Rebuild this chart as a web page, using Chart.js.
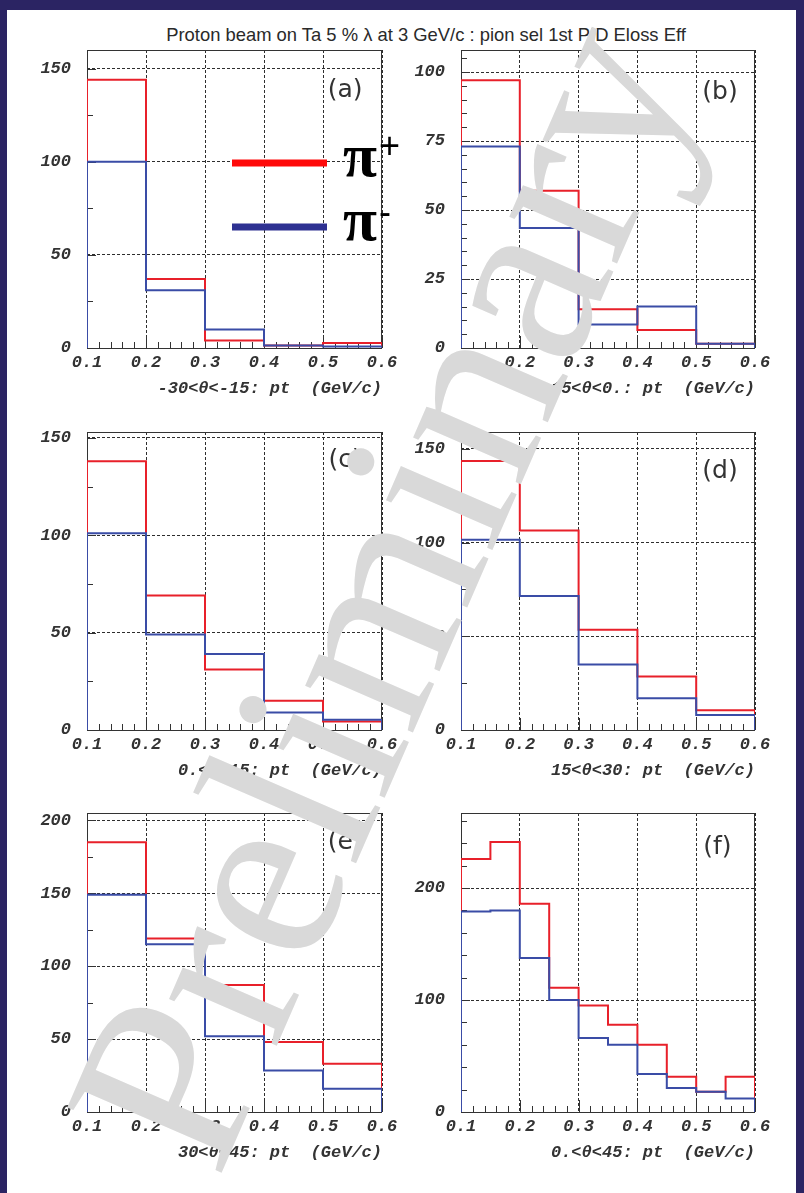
<!DOCTYPE html>
<html>
<head>
<meta charset="utf-8">
<script src="https://cdn.jsdelivr.net/npm/chart.js@4.4.1/dist/chart.umd.min.js"></script>
<style>
  html, body { margin: 0; padding: 0; background: #2b2463; }
  #page { position: relative; width: 804px; height: 1193px; overflow: hidden; background: #2b2463; }
  #sheet { position: absolute; left: 7px; top: 10px; width: 789px; height: 1183px; background: #ffffff; }
  #title { position: absolute; left: 426px; top: 24px; transform: translateX(-50%); white-space: nowrap;
           font: 18.4px 'Liberation Sans', sans-serif; color: #2a2a2a; line-height: 22px; }
  canvas { position: absolute; }
  #wm { position: absolute; left: 0; top: 0; pointer-events: none; }
</style>
</head>
<body>
<div id="page">
  <div id="sheet"></div>
  <div id="title">Proton beam on Ta 5 % λ at 3 GeV/c : pion sel 1st PID Eloss Eff</div>
  <svg id="wm" width="804" height="1193">
    <text x="218" y="1181" transform="rotate(-66.5 218 1181)" font-family="Liberation Serif, serif"
          font-size="256" fill="#d9d9d9">Preliminary</text>
  </svg>
</div>
<script>
// pt bin edges (GeV/c)
const ptEdges     = [0.1, 0.2, 0.3, 0.4, 0.5, 0.6];
const ptEdgesFine = [0.1, 0.15, 0.2, 0.25, 0.3, 0.35, 0.4, 0.45, 0.5, 0.55, 0.6];
const ptTicks     = [0.1, 0.2, 0.3, 0.4, 0.5, 0.6];

// pion counts per pt bin, one pair of arrays per θ slice
const piPlusA  = [144, 37, 4, 1.4, 2.7];
const piMinusA = [100, 31, 10, 1.4, 0.8];
const piPlusB  = [97, 57, 14, 6.5, 1.5];
const piMinusB = [73, 43.5, 8.5, 15, 1.5];
const piPlusC  = [138, 69, 31, 15, 4.3];
const piMinusC = [101, 49, 39, 9, 5.3];
const piPlusD  = [143.5, 106.5, 53.5, 28.5, 10.5];
const piMinusD = [101.5, 71.5, 35, 17, 8];
const piPlusE  = [185, 119, 87, 48, 33];
const piMinusE = [149, 115, 52, 28.5, 16];
const piPlusF  = [226, 241, 186, 111, 95, 78, 60, 31.5, 18, 31.5];
const piMinusF = [179, 180, 137.5, 100, 66, 60, 34, 21.5, 18, 12];

// y-axis tick values
const yTicksA = [0, 50, 100, 150];
const yTicksB = [0, 25, 50, 75, 100];
const yTicksC = [0, 50, 100, 150];
const yTicksD = [0, 50, 100, 150];
const yTicksE = [0, 50, 100, 150, 200];
const yTicksF = [0, 100, 200];

const sliceTitles = [
  '-30<θ<-15: pt  (GeV/c)', '-15<θ<0.: pt  (GeV/c)', '0.<θ<15: pt  (GeV/c)',
  '15<θ<30: pt  (GeV/c)', '30<θ<45: pt  (GeV/c)', '0.<θ<45: pt  (GeV/c)'
];
const panelLabels = ['(a)', '(b)', '(c)', '(d)', '(e)', '(f)'];
const seriesSymbol = 'π';
const seriesCharges = ['+', '-'];

// styling
const RED = '#e8202a', BLUE = '#3a4ca6';
const LEGEND_COLORS = ['#ff0a0a', '#2e3192'];
const AXIS_COLOR = '#333333';
const GRID_COLOR = '#2e2e2e';
const LABEL_FONT = { family: "'Liberation Mono', monospace", size: 17, weight: 'bold', style: 'italic' };

// frame rectangles of each pad and the canvas that holds it
const COLS = [[87, 382], [461, 755]];
const ROWS = [[50, 348], [432, 730], [813, 1112]];
const CANVAS_COLS = [[8, 420], [398, 796]];
const CANVAS_ROWS = [[40, 418], [418, 800], [800, 1190]];

const panels = [
  { plus: piPlusA, minus: piMinusA, edges: ptEdges,     yMax: 160, yTicks: yTicksA, yMinor: 25, lab: [0.875, 0.137], legend: true },
  { plus: piPlusB, minus: piMinusB, edges: ptEdges,     yMax: 108, yTicks: yTicksB, yMinor: 5,  lab: [0.881, 0.144] },
  { plus: piPlusC, minus: piMinusC, edges: ptEdges,     yMax: 153, yTicks: yTicksC, yMinor: 25, lab: [0.875, 0.096] },
  { plus: piPlusD, minus: piMinusD, edges: ptEdges,     yMax: 159, yTicks: yTicksD, yMinor: 25, lab: [0.881, 0.134] },
  { plus: piPlusE, minus: piMinusE, edges: ptEdges,     yMax: 205, yTicks: yTicksE, yMinor: 25, lab: [0.875, 0.100] },
  { plus: piPlusF, minus: piMinusF, edges: ptEdgesFine, yMax: 267, yTicks: yTicksF, yMinor: 20, lab: [0.872, 0.117] }
];

// histogram outline: start at zero on the first edge, step across every bin, drop to zero at the last edge
function histOutline(edges, counts) {
  const pts = [{ x: edges[0], y: 0 }];
  counts.forEach((c, i) => { pts.push({ x: edges[i], y: c }); pts.push({ x: edges[i + 1], y: c }); });
  pts.push({ x: edges[edges.length - 1], y: 0 });
  return pts;
}

// ROOT-style pad decorations: frame, inward tick marks, pad label and legend
const padDecor = {
  id: 'padDecor',
  beforeDatasetsDraw(chart, args, o) {
    const { ctx, chartArea: a, scales: { x, y } } = chart;
    ctx.save();
    ctx.strokeStyle = AXIS_COLOR;
    ctx.lineWidth = 1;
    ctx.setLineDash([]);
    ctx.beginPath();
    const nx = Math.round((x.max - x.min) / o.xMinor);
    for (let i = 0; i <= nx; i++) {
      const px = Math.round(x.getPixelForValue(x.min + i * o.xMinor)) + 0.5;
      ctx.moveTo(px, a.bottom); ctx.lineTo(px, a.bottom - 6);
    }
    x.ticks.forEach(t => {
      const px = Math.round(x.getPixelForValue(t.value)) + 0.5;
      ctx.moveTo(px, a.bottom); ctx.lineTo(px, a.bottom - 12);
    });
    const ny = Math.floor(y.max / o.yMinor + 1e-9);
    for (let i = 0; i <= ny; i++) {
      const py = Math.round(y.getPixelForValue(i * o.yMinor)) + 0.5;
      ctx.moveTo(a.left, py); ctx.lineTo(a.left + 6, py);
    }
    y.ticks.forEach(t => {
      const py = Math.round(y.getPixelForValue(t.value)) + 0.5;
      ctx.moveTo(a.left, py); ctx.lineTo(a.left + 9, py);
    });
    ctx.stroke();
    ctx.strokeRect(Math.round(a.left) + 0.5, Math.round(a.top) + 0.5,
                   Math.round(a.right - a.left) - 1, Math.round(a.bottom - a.top));
    ctx.restore();
  },
  afterDatasetsDraw(chart, args, o) {
    const { ctx, chartArea: a } = chart;
    ctx.save();
    ctx.fillStyle = '#333';
    ctx.font = "25px 'DejaVu Sans', sans-serif";
    ctx.textAlign = 'center';
    ctx.textBaseline = 'middle';
    ctx.fillText(o.label, a.left + o.lab[0] * (a.right - a.left), a.top + o.lab[1] * (a.bottom - a.top));
    if (o.legend) {
      const rowsY = [113, 177];
      rowsY.forEach((dy, i) => {
        ctx.fillStyle = LEGEND_COLORS[i];
        ctx.fillRect(a.left + 145, a.top + dy - 3.5, 95, 7);
        ctx.fillStyle = '#000';
        ctx.textAlign = 'left';
        ctx.textBaseline = 'alphabetic';
        ctx.font = "bold 62px 'Liberation Serif', serif";
        ctx.fillText(seriesSymbol, a.left + 256, a.top + dy + 13);
        ctx.font = "36px 'Liberation Sans', sans-serif";
        ctx.textBaseline = 'middle';
        ctx.fillText(seriesCharges[i], a.left + 292, a.top + dy - 15 + (i ? 2 : 0));
      });
    }
    ctx.restore();
  }
};

const page = document.getElementById('page');
const wm = document.getElementById('wm');

panels.forEach((p, k) => {
  const col = k % 2, row = Math.floor(k / 2);
  const [fl, fr] = COLS[col], [ft, fb] = ROWS[row];
  const [cl, cr] = CANVAS_COLS[col], [ct, cb] = CANVAS_ROWS[row];
  const cv = document.createElement('canvas');
  cv.width = cr - cl; cv.height = cb - ct;
  cv.style.left = cl + 'px'; cv.style.top = ct + 'px';
  page.insertBefore(cv, wm);

  const yAxisW = fl - cl, xAxisH = cb - fb;
  const titleLH = LABEL_FONT.size * 1.2;

  new Chart(cv, {
    type: 'line',
    data: {
      datasets: [
        { label: 'π+', data: histOutline(p.edges, p.plus), borderColor: RED, order: 1 },
        { label: 'π-', data: histOutline(p.edges, p.minus), borderColor: BLUE, order: 0 }
      ]
    },
    options: {
      responsive: false,
      devicePixelRatio: 1,
      animation: false,
      events: [],
      elements: { line: { borderWidth: 2, tension: 0, fill: false }, point: { radius: 0 } },
      layout: { padding: { top: ft - ct, right: cr - fr, bottom: 0, left: 0 } },
      plugins: {
        legend: { display: false },
        tooltip: { enabled: false },
        padDecor: { xMinor: 0.02, yMinor: p.yMinor, label: panelLabels[k], lab: p.lab, legend: !!p.legend }
      },
      scales: {
        x: {
          type: 'linear', min: ptTicks[0], max: ptTicks[ptTicks.length - 1],
          afterBuildTicks: s => { s.ticks = ptTicks.map(v => ({ value: v })); },
          afterFit: s => { s.height = xAxisH; s.paddingLeft = 0; s.paddingRight = 0; },
          ticks: { font: LABEL_FONT, color: AXIS_COLOR, padding: 5, maxRotation: 0, autoSkip: false,
                   callback: v => v.toFixed(1) },
          grid: { drawTicks: false, color: GRID_COLOR, lineWidth: 1 },
          border: { display: false, dash: [3, 2] },
          title: { display: true, text: sliceTitles[k], align: 'end', font: LABEL_FONT, color: AXIS_COLOR,
                   padding: { top: 0, bottom: xAxisH - 41 - titleLH / 2 } }
        },
        y: {
          type: 'linear', min: 0, max: p.yMax,
          afterBuildTicks: s => { s.ticks = p.yTicks.map(v => ({ value: v })); },
          afterFit: s => { s.width = yAxisW; s.paddingTop = 0; s.paddingBottom = 0; },
          ticks: { font: LABEL_FONT, color: AXIS_COLOR, padding: 16, callback: v => String(v) },
          grid: { drawTicks: false, color: GRID_COLOR, lineWidth: 1 },
          border: { display: false, dash: [3, 2] }
        }
      }
    },
    plugins: [padDecor]
  });
});
</script>
</body>
</html>
